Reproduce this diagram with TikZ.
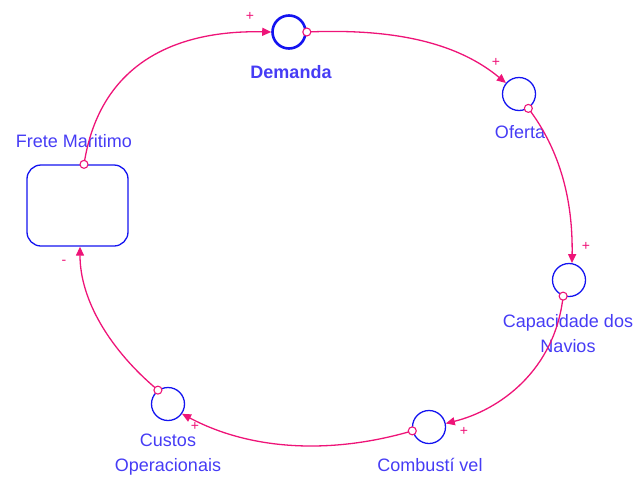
\documentclass[tikz,border=0pt]{standalone}
\usepackage{fontspec}
\setmainfont{Liberation Sans}
\usetikzlibrary{arrows.meta,calc}
\definecolor{varblue}{RGB}{20,20,240}
\definecolor{txtblue}{RGB}{70,60,245}
\definecolor{linkpink}{RGB}{238,20,120}
\tikzset{
  var/.style={circle,draw=varblue,line width=1.3pt,minimum size=33pt,inner sep=0pt},
  keyvar/.style={var,line width=2.6pt},
  stock/.style={rectangle,rounded corners=14pt,draw=varblue,line width=1.3pt,
    minimum width=101pt,minimum height=81pt,inner sep=0pt},
  port/.style={circle,draw=linkpink,line width=1.1pt,minimum size=8pt,inner sep=0pt,fill=white},
  lbl/.style={text=txtblue,font=\fontsize{18}{25}\selectfont,align=center,inner sep=0pt},
  sgn/.style={text=linkpink,font=\fontsize{14}{14}\selectfont,inner sep=0pt},
  link/.style={draw=linkpink,line width=1.3pt,-{Triangle[length=9pt,width=8pt]}}
}
\begin{document}
\begin{tikzpicture}[x=1pt,y=-1pt]
\useasboundingbox (0,0) rectangle (637,477);

% variables
\node[keyvar] (dem) at (289,32) {};
\node[var] (ofe) at (519,94) {};
\node[var] (cap) at (569,280) {};
\node[var] (com) at (429,427) {};
\node[var] (cus) at (168,404) {};
\node[stock] (fm) at (77.5,205.5) {};

% labels
\node[lbl,font=\fontsize{18}{25}\selectfont\bfseries] (tdem) at (291,72) {Demanda};
\node[lbl] (tofe) at (520,132) {Oferta};
\node[lbl] (tfm) at (74,141) {Frete Maritimo};
\node[lbl] (tcap) at (568,334) {Capacidade dos\\Navios};
\node[lbl] (tcom) at (430,465) {Combustí vel};
\node[lbl] (tcus) at (168,455) {Custos\\Operacionais};

% causal links
\coordinate (fmtop) at ($(fm.north)+(6.5,0)$);
\coordinate (fmbot) at ($(fm.south)+(2.5,0)$);
\draw[link] (fmtop) .. controls (100,60) and (180,30) .. (dem.west);
\draw[link] (dem.east) .. controls (400,28) and (460,45) .. (ofe.140);
\draw[link] (ofe.-57) .. controls (560,150) and (573,200) .. (cap.80);
\draw[link] (cap.-110) .. controls (555,370) and (500,410) .. (com.12);
\draw[link] (com.193) .. controls (330,455) and (250,450) .. (cus.-35);
\draw[link] (cus.126) .. controls (110,350) and (80,300) .. (fmbot);

% link origins
\node[port] (pfm) at (fmtop) {};
\node[port] (pdem) at (dem.east) {};
\node[port] (pofe) at (ofe.-57) {};
\node[port] (pcap) at (cap.-110) {};
\node[port] (pcom) at (com.193) {};
\node[port] (pcus) at (cus.126) {};

% polarities
\node[sgn] (s1) at (250,16) {+};
\node[sgn] (s2) at (496,62) {+};
\node[sgn] (s3) at (586,246) {+};
\node[sgn] (s4) at (464,431) {+};
\node[sgn] (s5) at (195,426) {+};
\node[sgn] (s6) at (64,262) {-};
\end{tikzpicture}
\end{document}
